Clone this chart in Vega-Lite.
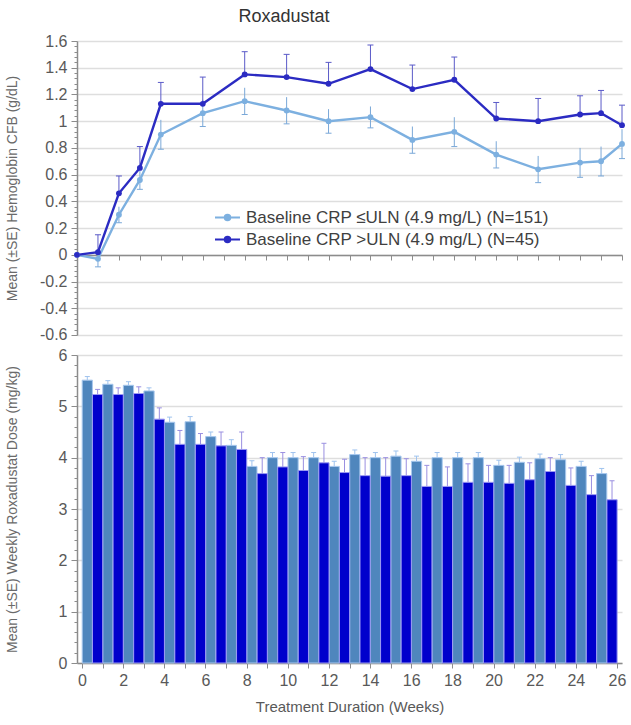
{
  "$schema": "https://vega.github.io/schema/vega-lite/v6.json",
  "padding": {"left": 5, "top": 8, "right": 5, "bottom": 5},
  "bounds": "flush",
  "spacing": 20,
  "title": {"text": "Roxadustat", "fontSize": 18, "fontWeight": "normal", "color": "#333333", "font": "Liberation Sans", "anchor": "middle", "dx": -32, "offset": 7},
  "config": {
    "font": "Liberation Sans",
    "view": {"stroke": null},
    "axis": {"labelFont": "Liberation Sans", "titleFont": "Liberation Sans", "labelColor": "#595959", "titleColor": "#6a6a6a", "domainColor": "#8c8c8c", "tickColor": "#8c8c8c", "gridColor": "#dedede", "gridWidth": 1.5, "labelFontSize": 16, "titleFontSize": 14, "titleFontWeight": "normal", "labelOverlap": false, "tickCount": 500}
  },
  "datasets": {
    "hb": [
      {"week": 0, "group": "Baseline CRP ≤ULN (4.9 mg/L) (N=151)", "mean": 0, "lo": 0, "hi": 0},
      {"week": 1, "group": "Baseline CRP ≤ULN (4.9 mg/L) (N=151)", "mean": -0.03, "lo": -0.09, "hi": 0.03},
      {"week": 2, "group": "Baseline CRP ≤ULN (4.9 mg/L) (N=151)", "mean": 0.3, "lo": 0.24, "hi": 0.36},
      {"week": 3, "group": "Baseline CRP ≤ULN (4.9 mg/L) (N=151)", "mean": 0.56, "lo": 0.49, "hi": 0.63},
      {"week": 4, "group": "Baseline CRP ≤ULN (4.9 mg/L) (N=151)", "mean": 0.9, "lo": 0.79, "hi": 1.01},
      {"week": 6, "group": "Baseline CRP ≤ULN (4.9 mg/L) (N=151)", "mean": 1.06, "lo": 0.96, "hi": 1.16},
      {"week": 8, "group": "Baseline CRP ≤ULN (4.9 mg/L) (N=151)", "mean": 1.15, "lo": 1.05, "hi": 1.25},
      {"week": 10, "group": "Baseline CRP ≤ULN (4.9 mg/L) (N=151)", "mean": 1.08, "lo": 0.98, "hi": 1.18},
      {"week": 12, "group": "Baseline CRP ≤ULN (4.9 mg/L) (N=151)", "mean": 1.0, "lo": 0.91, "hi": 1.09},
      {"week": 14, "group": "Baseline CRP ≤ULN (4.9 mg/L) (N=151)", "mean": 1.03, "lo": 0.95, "hi": 1.11},
      {"week": 16, "group": "Baseline CRP ≤ULN (4.9 mg/L) (N=151)", "mean": 0.86, "lo": 0.76, "hi": 0.96},
      {"week": 18, "group": "Baseline CRP ≤ULN (4.9 mg/L) (N=151)", "mean": 0.92, "lo": 0.81, "hi": 1.03},
      {"week": 20, "group": "Baseline CRP ≤ULN (4.9 mg/L) (N=151)", "mean": 0.75, "lo": 0.65, "hi": 0.85},
      {"week": 22, "group": "Baseline CRP ≤ULN (4.9 mg/L) (N=151)", "mean": 0.64, "lo": 0.54, "hi": 0.74},
      {"week": 24, "group": "Baseline CRP ≤ULN (4.9 mg/L) (N=151)", "mean": 0.69, "lo": 0.58, "hi": 0.8},
      {"week": 25, "group": "Baseline CRP ≤ULN (4.9 mg/L) (N=151)", "mean": 0.7, "lo": 0.59, "hi": 0.81},
      {"week": 26, "group": "Baseline CRP ≤ULN (4.9 mg/L) (N=151)", "mean": 0.83, "lo": 0.72, "hi": 0.94},
      {"week": 0, "group": "Baseline CRP >ULN (4.9 mg/L) (N=45)", "mean": 0, "lo": 0, "hi": 0},
      {"week": 1, "group": "Baseline CRP >ULN (4.9 mg/L) (N=45)", "mean": 0.02, "lo": 0.02, "hi": 0.15},
      {"week": 2, "group": "Baseline CRP >ULN (4.9 mg/L) (N=45)", "mean": 0.46, "lo": 0.46, "hi": 0.59},
      {"week": 3, "group": "Baseline CRP >ULN (4.9 mg/L) (N=45)", "mean": 0.65, "lo": 0.65, "hi": 0.81},
      {"week": 4, "group": "Baseline CRP >ULN (4.9 mg/L) (N=45)", "mean": 1.13, "lo": 1.13, "hi": 1.29},
      {"week": 6, "group": "Baseline CRP >ULN (4.9 mg/L) (N=45)", "mean": 1.13, "lo": 1.13, "hi": 1.33},
      {"week": 8, "group": "Baseline CRP >ULN (4.9 mg/L) (N=45)", "mean": 1.35, "lo": 1.35, "hi": 1.52},
      {"week": 10, "group": "Baseline CRP >ULN (4.9 mg/L) (N=45)", "mean": 1.33, "lo": 1.33, "hi": 1.5},
      {"week": 12, "group": "Baseline CRP >ULN (4.9 mg/L) (N=45)", "mean": 1.28, "lo": 1.28, "hi": 1.44},
      {"week": 14, "group": "Baseline CRP >ULN (4.9 mg/L) (N=45)", "mean": 1.39, "lo": 1.39, "hi": 1.57},
      {"week": 16, "group": "Baseline CRP >ULN (4.9 mg/L) (N=45)", "mean": 1.24, "lo": 1.24, "hi": 1.42},
      {"week": 18, "group": "Baseline CRP >ULN (4.9 mg/L) (N=45)", "mean": 1.31, "lo": 1.31, "hi": 1.48},
      {"week": 20, "group": "Baseline CRP >ULN (4.9 mg/L) (N=45)", "mean": 1.02, "lo": 1.02, "hi": 1.14},
      {"week": 22, "group": "Baseline CRP >ULN (4.9 mg/L) (N=45)", "mean": 1.0, "lo": 1.0, "hi": 1.17},
      {"week": 24, "group": "Baseline CRP >ULN (4.9 mg/L) (N=45)", "mean": 1.05, "lo": 1.05, "hi": 1.19},
      {"week": 25, "group": "Baseline CRP >ULN (4.9 mg/L) (N=45)", "mean": 1.06, "lo": 1.06, "hi": 1.23},
      {"week": 26, "group": "Baseline CRP >ULN (4.9 mg/L) (N=45)", "mean": 0.97, "lo": 0.97, "hi": 1.12}
    ],
    "dose": [
      {"week": 0, "group": "low", "mean": 5.51, "hi": 5.58},
      {"week": 1, "group": "low", "mean": 5.43, "hi": 5.5},
      {"week": 2, "group": "low", "mean": 5.41, "hi": 5.48},
      {"week": 3, "group": "low", "mean": 5.3, "hi": 5.36},
      {"week": 4, "group": "low", "mean": 4.69, "hi": 4.79},
      {"week": 5, "group": "low", "mean": 4.7, "hi": 4.8},
      {"week": 6, "group": "low", "mean": 4.41, "hi": 4.5},
      {"week": 7, "group": "low", "mean": 4.24, "hi": 4.35},
      {"week": 8, "group": "low", "mean": 3.83, "hi": 3.94},
      {"week": 9, "group": "low", "mean": 4.0, "hi": 4.1},
      {"week": 10, "group": "low", "mean": 4.0, "hi": 4.1},
      {"week": 11, "group": "low", "mean": 4.0, "hi": 4.1},
      {"week": 12, "group": "low", "mean": 3.83, "hi": 3.93},
      {"week": 13, "group": "low", "mean": 4.06, "hi": 4.15},
      {"week": 14, "group": "low", "mean": 4.0, "hi": 4.1},
      {"week": 15, "group": "low", "mean": 4.03, "hi": 4.13},
      {"week": 16, "group": "low", "mean": 3.93, "hi": 4.03},
      {"week": 17, "group": "low", "mean": 4.0, "hi": 4.1},
      {"week": 18, "group": "low", "mean": 4.0, "hi": 4.1},
      {"week": 19, "group": "low", "mean": 4.0, "hi": 4.1},
      {"week": 20, "group": "low", "mean": 3.85, "hi": 3.95},
      {"week": 21, "group": "low", "mean": 3.91, "hi": 4.01},
      {"week": 22, "group": "low", "mean": 3.98, "hi": 4.07},
      {"week": 23, "group": "low", "mean": 3.96, "hi": 4.06},
      {"week": 24, "group": "low", "mean": 3.83, "hi": 3.93},
      {"week": 25, "group": "low", "mean": 3.69, "hi": 3.79},
      {"week": 0, "group": "high", "mean": 5.23, "hi": 5.33},
      {"week": 1, "group": "high", "mean": 5.23, "hi": 5.36},
      {"week": 2, "group": "high", "mean": 5.25, "hi": 5.38},
      {"week": 3, "group": "high", "mean": 4.75, "hi": 4.97},
      {"week": 4, "group": "high", "mean": 4.26, "hi": 4.53},
      {"week": 5, "group": "high", "mean": 4.26, "hi": 4.47},
      {"week": 6, "group": "high", "mean": 4.23, "hi": 4.5},
      {"week": 7, "group": "high", "mean": 4.16, "hi": 4.5},
      {"week": 8, "group": "high", "mean": 3.69, "hi": 4.0},
      {"week": 9, "group": "high", "mean": 3.82, "hi": 4.1},
      {"week": 10, "group": "high", "mean": 3.75, "hi": 4.02},
      {"week": 11, "group": "high", "mean": 3.9, "hi": 4.28},
      {"week": 12, "group": "high", "mean": 3.71, "hi": 3.97},
      {"week": 13, "group": "high", "mean": 3.65, "hi": 4.0},
      {"week": 14, "group": "high", "mean": 3.64, "hi": 4.0},
      {"week": 15, "group": "high", "mean": 3.65, "hi": 3.98},
      {"week": 16, "group": "high", "mean": 3.44, "hi": 3.85},
      {"week": 17, "group": "high", "mean": 3.44, "hi": 3.82},
      {"week": 18, "group": "high", "mean": 3.52, "hi": 3.88},
      {"week": 19, "group": "high", "mean": 3.52, "hi": 3.85},
      {"week": 20, "group": "high", "mean": 3.5, "hi": 3.85},
      {"week": 21, "group": "high", "mean": 3.57, "hi": 3.9},
      {"week": 22, "group": "high", "mean": 3.73, "hi": 4.0},
      {"week": 23, "group": "high", "mean": 3.46, "hi": 3.8},
      {"week": 24, "group": "high", "mean": 3.28, "hi": 3.65},
      {"week": 25, "group": "high", "mean": 3.18, "hi": 3.55}
    ]
  },
  "vconcat": [
    {
      "width": 545,
      "height": 294,
      "data": {"name": "hb"},
      "layer": [
        {
          "transform": [{"filter": {"field": "group", "equal": "Baseline CRP ≤ULN (4.9 mg/L) (N=151)"}}],
          "mark": {"type": "rule", "color": "#7aa8d8", "strokeWidth": 1},
          "encoding": {
            "x": {"field": "week", "type": "quantitative", "scale": {"domain": [0, 26], "nice": false},
              "axis": {"values": [0,1,2,3,4,5,6,7,8,9,10,11,12,13,14,15,16,17,18,19,20,21,22,23,24,25,25.999], "tickCount": 500, "labels": false, "title": null, "grid": false, "offset": -80, "tickSize": 5, "domainWidth": 1.5}},
            "y": {"field": "lo", "type": "quantitative", "scale": {"domain": [-0.6, 1.6], "nice": false, "zero": false},
              "axis": {"title": "Mean (±SE) Hemoglobin CFB (g/dL)", "titleX": -58, "minExtent": 70, "maxExtent": 70, "labelPadding": 4, "domainWidth": 1.5, "tickCount": 500,
                "values": [-0.5999,-0.56,-0.52,-0.48,-0.44,-0.4,-0.36,-0.32,-0.28,-0.24,-0.2,-0.16,-0.12,-0.08,-0.04,0,0.04,0.08,0.12,0.16,0.2,0.24,0.28,0.32,0.36,0.4,0.44,0.48,0.52,0.56,0.6,0.64,0.68,0.72,0.76,0.8,0.84,0.88,0.92,0.96,1,1.04,1.08,1.12,1.16,1.2,1.24,1.28,1.32,1.36,1.4,1.44,1.48,1.52,1.56,1.5999],
                "labelExpr": "abs(datum.value*5 - round(datum.value*5)) < 0.01 ? '' + (round(datum.value*10)/10) : ''",
                "tickSize": {"condition": {"test": "abs(datum.value*5 - round(datum.value*5)) < 0.01", "value": 6}, "value": 3},
                "gridOpacity": {"condition": {"test": "abs(datum.value*5 - round(datum.value*5)) < 0.01", "value": 1}, "value": 0}}},
            "y2": {"field": "hi"}
          }
        },
        {
          "transform": [{"filter": {"field": "group", "equal": "Baseline CRP ≤ULN (4.9 mg/L) (N=151)"}}],
          "mark": {"type": "point", "shape": "M-1,0H1", "size": 36, "filled": false, "color": "#7aa8d8", "strokeWidth": 1, "opacity": 1},
          "encoding": {"x": {"field": "week", "type": "quantitative"}, "y": {"field": "lo", "type": "quantitative"}}
        },
        {
          "transform": [{"filter": {"field": "group", "equal": "Baseline CRP >ULN (4.9 mg/L) (N=45)"}}],
          "mark": {"type": "rule", "color": "#5a5ac8", "strokeWidth": 1},
          "encoding": {"x": {"field": "week", "type": "quantitative"}, "y": {"field": "lo", "type": "quantitative"}, "y2": {"field": "hi"}}
        },
        {
          "transform": [{"filter": {"field": "group", "equal": "Baseline CRP >ULN (4.9 mg/L) (N=45)"}}],
          "mark": {"type": "point", "shape": "M-1,0H1", "size": 36, "filled": false, "color": "#5a5ac8", "strokeWidth": 1, "opacity": 1},
          "encoding": {"x": {"field": "week", "type": "quantitative"}, "y": {"field": "hi", "type": "quantitative"}}
        },
        {
          "mark": {"type": "line", "strokeWidth": 2.4},
          "encoding": {
            "x": {"field": "week", "type": "quantitative"},
            "y": {"field": "mean", "type": "quantitative"},
            "color": {"field": "group", "type": "nominal",
              "scale": {"domain": ["Baseline CRP ≤ULN (4.9 mg/L) (N=151)", "Baseline CRP >ULN (4.9 mg/L) (N=45)"], "range": ["#7db0e0", "#2b2bc2"]},
              "legend": {"orient": "none", "legendX": 137, "legendY": 163, "title": null, "labelFontSize": 17, "labelColor": "#404040", "labelFont": "Liberation Sans", "labelLimit": 450, "rowPadding": 0, "symbolType": "M-1,0H1M-0.22,0A0.22,0.22 0 1,1 0.22,0A0.22,0.22 0 1,1 -0.22,0Z", "symbolSize": 625, "symbolStrokeWidth": 2, "labelOffset": 5}}
          }
        },
        {
          "mark": {"type": "point", "filled": true, "size": 34, "opacity": 1},
          "encoding": {
            "x": {"field": "week", "type": "quantitative"},
            "y": {"field": "mean", "type": "quantitative"},
            "color": {"field": "group", "type": "nominal"}
          }
        }
      ]
    },
    {
      "width": 545,
      "height": 308,
      "data": {"name": "dose"},
      "layer": [
        {
          "transform": [{"filter": {"field": "group", "equal": "low"}}],
          "mark": {"type": "bar", "width": 10.2, "xOffset": 5.3, "color": "#4f86bd", "stroke": "#a8c8ee", "strokeWidth": 1},
          "encoding": {
            "x": {"field": "week", "type": "quantitative", "scale": {"domain": [0, 26], "nice": false},
              "axis": {"values": [0,1,2,3,4,5,6,7,8,9,10,11,12,13,14,15,16,17,18,19,20,21,22,23,24,25,25.999], "tickCount": 500, "labelExpr": "abs(datum.value/2 - round(datum.value/2)) < 0.01 ? '' + round(datum.value) : ''", "title": "Treatment Duration (Weeks)", "titleFontSize": 15, "titleColor": "#595959", "titlePadding": 11, "grid": false, "tickSize": 5, "labelPadding": 4, "domainWidth": 1.5, "labelFlush": false}},
            "y": {"field": "mean", "type": "quantitative", "scale": {"domain": [0, 6], "nice": false},
              "axis": {"title": "Mean (±SE) Weekly Roxadustat Dose (mg/kg)", "titleX": -58, "minExtent": 70, "maxExtent": 70, "labelPadding": 4, "domainWidth": 1.5, "tickCount": 500,
                "values": [0,0.2,0.4,0.6,0.8,1,1.2,1.4,1.6,1.8,2,2.2,2.4,2.6,2.8,3,3.2,3.4,3.6,3.8,4,4.2,4.4,4.6,4.8,5,5.2,5.4,5.6,5.8,5.999],
                "labelExpr": "abs(datum.value - round(datum.value)) < 0.01 ? '' + round(datum.value) : ''",
                "tickSize": {"condition": {"test": "abs(datum.value - round(datum.value)) < 0.01", "value": 6}, "value": 3},
                "gridOpacity": {"condition": {"test": "abs(datum.value - round(datum.value)) < 0.01", "value": 1}, "value": 0}}}
          }
        },
        {
          "transform": [{"filter": {"field": "group", "equal": "high"}}],
          "mark": {"type": "bar", "width": 10.2, "xOffset": 15.6, "color": "#0000cc", "stroke": "#9a9af2", "strokeWidth": 1},
          "encoding": {"x": {"field": "week", "type": "quantitative"}, "y": {"field": "mean", "type": "quantitative"}}
        },
        {
          "transform": [{"filter": {"field": "group", "equal": "low"}}],
          "mark": {"type": "rule", "xOffset": 5.3, "color": "#9fc3ee", "strokeWidth": 1},
          "encoding": {"x": {"field": "week", "type": "quantitative"}, "y": {"field": "mean", "type": "quantitative"}, "y2": {"field": "hi"}}
        },
        {
          "transform": [{"filter": {"field": "group", "equal": "low"}}],
          "mark": {"type": "point", "shape": "M-1,0H1", "size": 25, "filled": false, "xOffset": 5.3, "color": "#9fc3ee", "strokeWidth": 1, "opacity": 1},
          "encoding": {"x": {"field": "week", "type": "quantitative"}, "y": {"field": "hi", "type": "quantitative"}}
        },
        {
          "transform": [{"filter": {"field": "group", "equal": "high"}}],
          "mark": {"type": "rule", "xOffset": 15.6, "color": "#9a8fe0", "strokeWidth": 1},
          "encoding": {"x": {"field": "week", "type": "quantitative"}, "y": {"field": "mean", "type": "quantitative"}, "y2": {"field": "hi"}}
        },
        {
          "transform": [{"filter": {"field": "group", "equal": "high"}}],
          "mark": {"type": "point", "shape": "M-1,0H1", "size": 25, "filled": false, "xOffset": 15.6, "color": "#9a8fe0", "strokeWidth": 1, "opacity": 1},
          "encoding": {"x": {"field": "week", "type": "quantitative"}, "y": {"field": "hi", "type": "quantitative"}}
        }
      ]
    }
  ]
}
